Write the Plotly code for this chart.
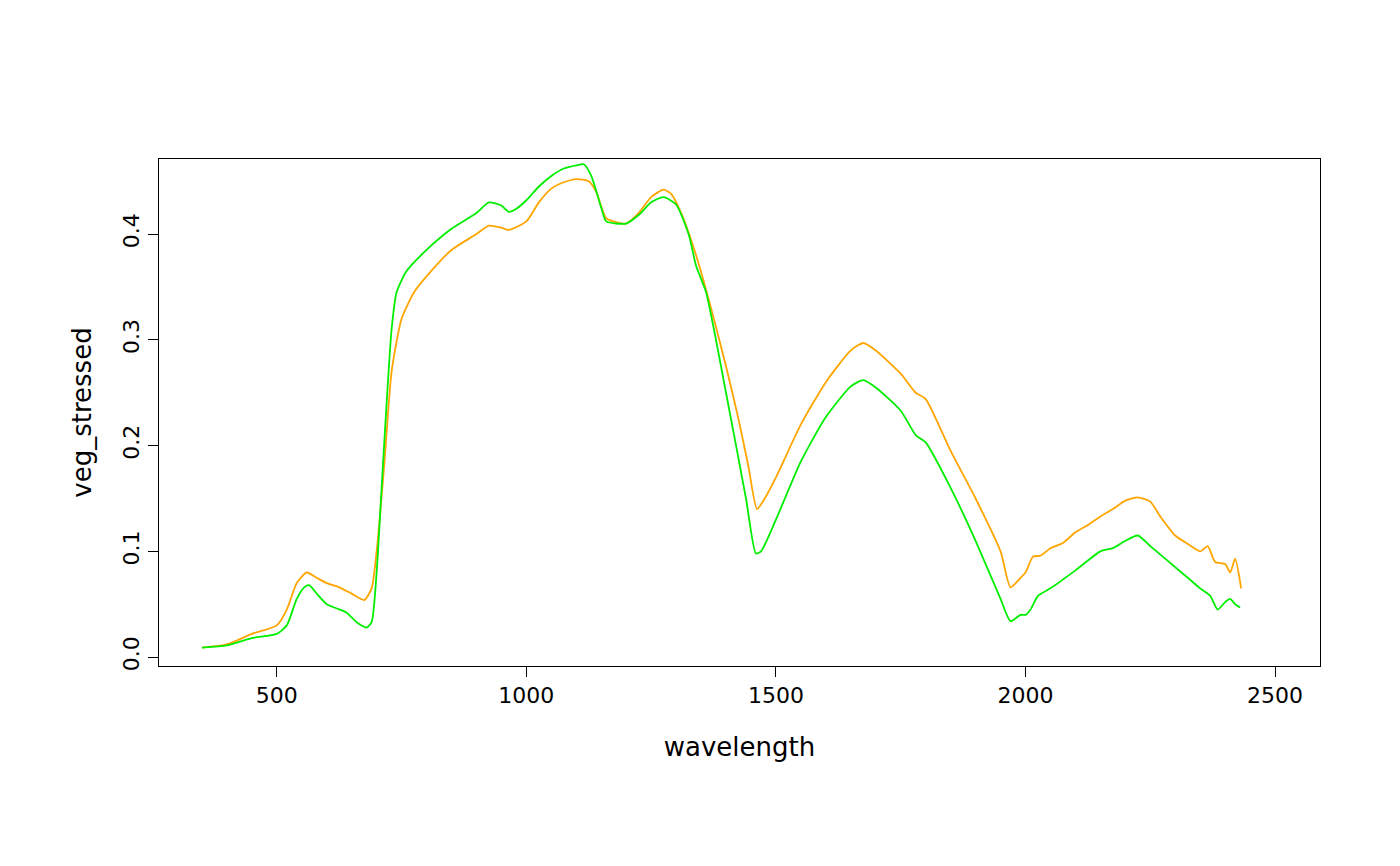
import plotly.graph_objects as go

gx = [350,400,450,500,520,540,555,565,580,600,620,640,660,680,690,700,710,720,730,740,760,800,850,900,925,950,965,980,1000,1025,1050,1075,1100,1115,1130,1150,1160,1200,1225,1250,1275,1300,1325,1340,1360,1400,1440,1460,1470,1500,1550,1600,1650,1675,1700,1750,1780,1800,1850,1900,1950,1970,1990,2000,2010,2025,2050,2100,2150,2175,2200,2225,2250,2275,2300,2325,2350,2370,2385,2400,2410,2420,2430]
gy = [0.009,0.011,0.018,0.022,0.03,0.055,0.066,0.068,0.06,0.05,0.046,0.042,0.033,0.028,0.033,0.08,0.16,0.24,0.31,0.345,0.365,0.385,0.405,0.42,0.43,0.427,0.421,0.424,0.432,0.445,0.455,0.462,0.465,0.466,0.455,0.425,0.412,0.41,0.418,0.43,0.435,0.428,0.4,0.37,0.345,0.25,0.15,0.098,0.1,0.13,0.185,0.227,0.256,0.262,0.255,0.233,0.21,0.203,0.16,0.11,0.055,0.034,0.04,0.04,0.045,0.058,0.065,0.082,0.1,0.103,0.11,0.115,0.105,0.095,0.085,0.075,0.065,0.058,0.045,0.052,0.055,0.05,0.047]
ox = [350,400,450,500,520,540,560,580,600,625,650,675,690,700,715,730,750,775,800,850,900,925,950,965,1000,1025,1050,1075,1100,1125,1140,1160,1200,1225,1250,1275,1290,1310,1340,1370,1400,1425,1445,1462,1475,1500,1550,1600,1650,1675,1700,1750,1780,1800,1850,1900,1950,1970,1990,2000,2015,2030,2050,2075,2100,2125,2150,2175,2200,2225,2250,2270,2300,2325,2350,2365,2380,2400,2410,2420,2432]
oy = [0.009,0.012,0.022,0.03,0.045,0.07,0.08,0.075,0.07,0.066,0.06,0.054,0.065,0.1,0.18,0.27,0.32,0.345,0.36,0.385,0.4,0.408,0.406,0.404,0.412,0.43,0.443,0.449,0.452,0.45,0.44,0.415,0.41,0.42,0.435,0.442,0.438,0.42,0.38,0.33,0.275,0.225,0.18,0.14,0.148,0.17,0.22,0.26,0.29,0.297,0.29,0.268,0.25,0.244,0.195,0.15,0.1,0.066,0.075,0.08,0.095,0.096,0.103,0.108,0.118,0.125,0.133,0.14,0.148,0.151,0.147,0.133,0.115,0.107,0.1,0.105,0.09,0.088,0.08,0.093,0.065]

fig = go.Figure()
fig.add_trace(go.Scatter(x=ox, y=oy, mode="lines", line=dict(color="orange", width=1.8, shape="spline", smoothing=0.6)))
fig.add_trace(go.Scatter(x=gx, y=gy, mode="lines", line=dict(color="#00ee00", width=1.8, shape="spline", smoothing=0.6)))
ax = dict(showgrid=False, zeroline=False, showline=True, linecolor="black", mirror=True,
          ticks="outside", ticklen=10, tickcolor="black")
fig.update_layout(
    width=1400, height=866, plot_bgcolor="white", paper_bgcolor="white", showlegend=False,
    margin=dict(l=151, r=88, t=151, b=208),
    font=dict(family="DejaVu Sans", size=22, color="black"),
    xaxis=dict(ax, range=[264, 2590], tickvals=[500,1000,1500,2000,2500],
               title=dict(text="wavelength", standoff=30)),
    yaxis=dict(ax, range=[-0.0084, 0.471], tickvals=[0,0.1,0.2,0.3,0.4], tickformat=".1f",
               tickangle=-90, title=dict(text="veg_stressed", standoff=20)),
)
fig.write_html("out.html")
